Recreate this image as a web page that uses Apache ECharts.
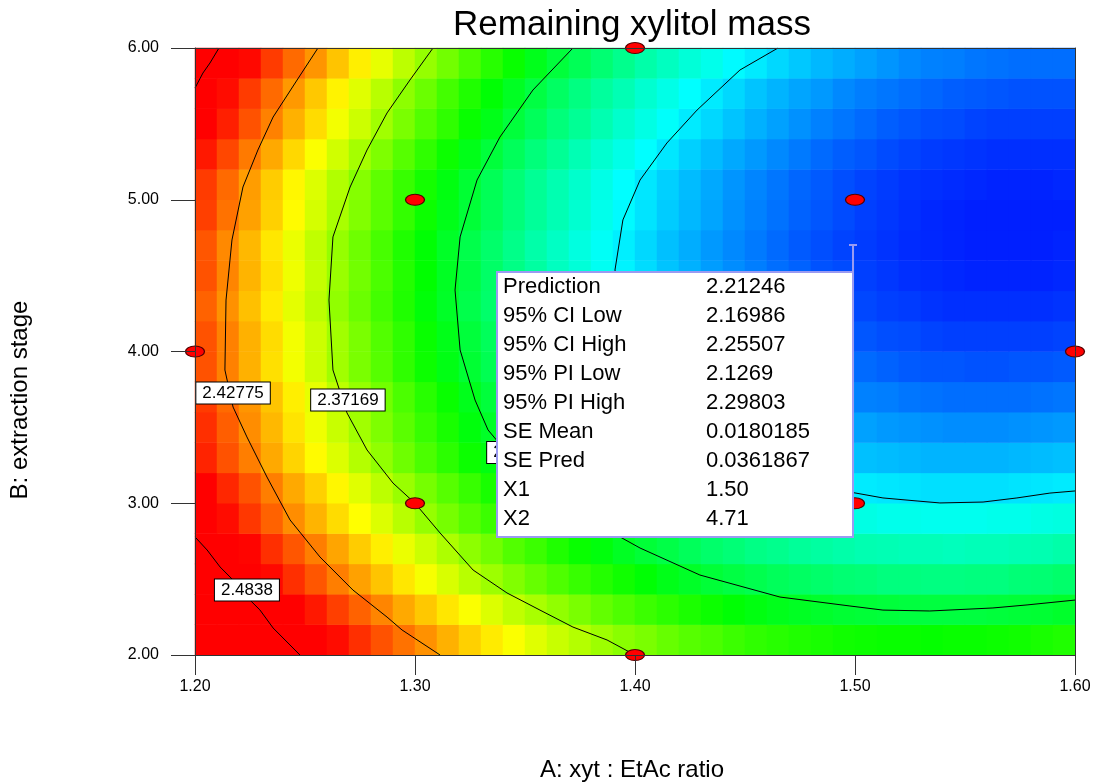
<!DOCTYPE html>
<html>
<head>
<meta charset="utf-8">
<title>Remaining xylitol mass</title>
<script src="https://cdn.jsdelivr.net/npm/echarts/dist/echarts.min.js"></script>
<style>
  html, body { margin: 0; padding: 0; background: #fff; }
  #chart { width: 1097px; height: 784px; }
</style>
</head>
<body>
<div id="chart"></div>
<script>
// cell centres of the response surface (A: xyt : EtAc ratio, B: extraction stage)
const aCells = ['1.205', '1.215', '1.225', '1.235', '1.245', '1.255', '1.265', '1.275', '1.285', '1.295',
    '1.305', '1.315', '1.325', '1.335', '1.345', '1.355', '1.365', '1.375', '1.385', '1.395',
    '1.405', '1.415', '1.425', '1.435', '1.445', '1.455', '1.465', '1.475', '1.485', '1.495',
    '1.505', '1.515', '1.525', '1.535', '1.545', '1.555', '1.565', '1.575', '1.585', '1.595'];
const bCells = ['2.1', '2.3', '2.5', '2.7', '2.9', '3.1', '3.3', '3.5', '3.7', '3.9',
    '4.1', '4.3', '4.5', '4.7', '4.9', '5.1', '5.3', '5.5', '5.7', '5.9'];

// remaining xylitol mass, one row per B cell (bottom to top), estimated from the plot
const surface = [
    [2.519, 2.508, 2.497, 2.487, 2.476, 2.467, 2.457, 2.448, 2.439, 2.431, 2.423, 2.415, 2.407, 2.400, 2.394, 2.387, 2.381, 2.376, 2.370, 2.365, 2.361, 2.356, 2.352, 2.349, 2.345, 2.342, 2.340, 2.338, 2.336, 2.334, 2.333, 2.332, 2.332, 2.331, 2.332, 2.332, 2.333, 2.334, 2.336, 2.338],
    [2.507, 2.496, 2.485, 2.474, 2.464, 2.454, 2.444, 2.435, 2.426, 2.417, 2.409, 2.401, 2.394, 2.386, 2.379, 2.373, 2.367, 2.361, 2.355, 2.350, 2.345, 2.341, 2.337, 2.333, 2.329, 2.326, 2.323, 2.321, 2.319, 2.317, 2.316, 2.315, 2.314, 2.314, 2.314, 2.314, 2.315, 2.316, 2.317, 2.319],
    [2.491, 2.480, 2.469, 2.458, 2.448, 2.438, 2.428, 2.419, 2.410, 2.401, 2.393, 2.385, 2.377, 2.370, 2.363, 2.356, 2.350, 2.344, 2.339, 2.334, 2.329, 2.324, 2.320, 2.316, 2.313, 2.310, 2.307, 2.305, 2.303, 2.301, 2.300, 2.298, 2.298, 2.297, 2.297, 2.298, 2.298, 2.300, 2.301, 2.303],
    [2.482, 2.470, 2.459, 2.448, 2.438, 2.428, 2.418, 2.408, 2.399, 2.390, 2.382, 2.374, 2.366, 2.359, 2.351, 2.345, 2.338, 2.332, 2.327, 2.321, 2.316, 2.312, 2.307, 2.303, 2.300, 2.296, 2.294, 2.291, 2.289, 2.287, 2.285, 2.284, 2.283, 2.283, 2.282, 2.283, 2.283, 2.284, 2.285, 2.287],
    [2.468, 2.457, 2.446, 2.435, 2.424, 2.414, 2.404, 2.395, 2.386, 2.377, 2.368, 2.360, 2.352, 2.345, 2.338, 2.331, 2.325, 2.319, 2.313, 2.308, 2.303, 2.298, 2.294, 2.290, 2.286, 2.283, 2.280, 2.277, 2.275, 2.273, 2.272, 2.270, 2.270, 2.269, 2.269, 2.269, 2.270, 2.270, 2.272, 2.273],
    [2.462, 2.450, 2.439, 2.428, 2.417, 2.407, 2.397, 2.387, 2.378, 2.369, 2.360, 2.352, 2.344, 2.336, 2.329, 2.322, 2.316, 2.309, 2.304, 2.298, 2.293, 2.288, 2.284, 2.279, 2.276, 2.272, 2.269, 2.266, 2.264, 2.262, 2.260, 2.259, 2.258, 2.257, 2.257, 2.257, 2.257, 2.258, 2.259, 2.260],
    [2.451, 2.439, 2.428, 2.417, 2.406, 2.396, 2.386, 2.376, 2.367, 2.358, 2.349, 2.341, 2.333, 2.326, 2.318, 2.311, 2.305, 2.299, 2.293, 2.287, 2.282, 2.277, 2.273, 2.269, 2.265, 2.261, 2.258, 2.256, 2.253, 2.251, 2.249, 2.248, 2.247, 2.246, 2.246, 2.246, 2.246, 2.247, 2.248, 2.249],
    [2.448, 2.436, 2.424, 2.413, 2.402, 2.391, 2.381, 2.371, 2.362, 2.353, 2.344, 2.336, 2.327, 2.320, 2.312, 2.305, 2.298, 2.292, 2.286, 2.280, 2.275, 2.270, 2.265, 2.261, 2.257, 2.253, 2.250, 2.247, 2.245, 2.242, 2.241, 2.239, 2.238, 2.237, 2.236, 2.236, 2.236, 2.237, 2.238, 2.239],
    [2.445, 2.433, 2.422, 2.410, 2.399, 2.389, 2.378, 2.368, 2.359, 2.349, 2.340, 2.332, 2.323, 2.315, 2.308, 2.301, 2.294, 2.287, 2.281, 2.275, 2.270, 2.264, 2.260, 2.255, 2.251, 2.247, 2.244, 2.241, 2.238, 2.235, 2.233, 2.232, 2.230, 2.229, 2.228, 2.228, 2.228, 2.228, 2.229, 2.230],
    [2.439, 2.427, 2.415, 2.403, 2.392, 2.382, 2.371, 2.361, 2.352, 2.342, 2.333, 2.325, 2.317, 2.309, 2.301, 2.294, 2.287, 2.280, 2.274, 2.268, 2.263, 2.258, 2.253, 2.248, 2.244, 2.240, 2.237, 2.234, 2.231, 2.229, 2.227, 2.225, 2.223, 2.222, 2.222, 2.221, 2.221, 2.222, 2.222, 2.223],
    [2.439, 2.427, 2.415, 2.404, 2.392, 2.382, 2.371, 2.361, 2.351, 2.342, 2.332, 2.324, 2.315, 2.307, 2.299, 2.292, 2.285, 2.278, 2.272, 2.266, 2.260, 2.255, 2.250, 2.245, 2.241, 2.237, 2.233, 2.230, 2.227, 2.224, 2.222, 2.220, 2.219, 2.217, 2.216, 2.216, 2.216, 2.216, 2.216, 2.217],
    [2.435, 2.423, 2.411, 2.400, 2.388, 2.378, 2.367, 2.357, 2.347, 2.338, 2.328, 2.320, 2.311, 2.303, 2.295, 2.288, 2.281, 2.274, 2.268, 2.262, 2.256, 2.251, 2.246, 2.241, 2.237, 2.233, 2.229, 2.226, 2.223, 2.220, 2.218, 2.216, 2.215, 2.213, 2.212, 2.212, 2.212, 2.212, 2.212, 2.213],
    [2.439, 2.426, 2.414, 2.403, 2.391, 2.380, 2.369, 2.359, 2.349, 2.339, 2.330, 2.321, 2.313, 2.304, 2.296, 2.289, 2.281, 2.275, 2.268, 2.262, 2.256, 2.250, 2.245, 2.240, 2.236, 2.232, 2.228, 2.225, 2.221, 2.219, 2.216, 2.214, 2.212, 2.211, 2.210, 2.209, 2.209, 2.209, 2.209, 2.210],
    [2.438, 2.425, 2.413, 2.401, 2.390, 2.379, 2.368, 2.358, 2.348, 2.338, 2.329, 2.320, 2.311, 2.303, 2.295, 2.287, 2.280, 2.273, 2.267, 2.261, 2.255, 2.249, 2.244, 2.239, 2.235, 2.231, 2.227, 2.223, 2.220, 2.217, 2.215, 2.213, 2.211, 2.210, 2.209, 2.208, 2.208, 2.208, 2.208, 2.209],
    [2.444, 2.431, 2.419, 2.407, 2.396, 2.384, 2.373, 2.363, 2.353, 2.343, 2.333, 2.324, 2.316, 2.307, 2.299, 2.291, 2.284, 2.277, 2.270, 2.264, 2.258, 2.252, 2.247, 2.242, 2.237, 2.233, 2.229, 2.225, 2.222, 2.219, 2.216, 2.214, 2.212, 2.210, 2.209, 2.208, 2.208, 2.208, 2.208, 2.208],
    [2.445, 2.433, 2.420, 2.408, 2.397, 2.386, 2.375, 2.364, 2.354, 2.344, 2.335, 2.326, 2.317, 2.308, 2.300, 2.292, 2.285, 2.278, 2.271, 2.265, 2.259, 2.253, 2.248, 2.243, 2.238, 2.234, 2.230, 2.226, 2.223, 2.220, 2.217, 2.215, 2.213, 2.212, 2.211, 2.210, 2.209, 2.209, 2.209, 2.210],
    [2.454, 2.442, 2.429, 2.417, 2.405, 2.394, 2.383, 2.372, 2.362, 2.352, 2.342, 2.333, 2.324, 2.315, 2.307, 2.299, 2.292, 2.284, 2.277, 2.271, 2.265, 2.259, 2.253, 2.248, 2.243, 2.239, 2.235, 2.231, 2.227, 2.224, 2.222, 2.219, 2.217, 2.215, 2.214, 2.213, 2.212, 2.212, 2.212, 2.212],
    [2.465, 2.452, 2.439, 2.427, 2.415, 2.404, 2.392, 2.382, 2.371, 2.361, 2.351, 2.342, 2.332, 2.324, 2.315, 2.307, 2.299, 2.292, 2.285, 2.278, 2.272, 2.266, 2.260, 2.255, 2.250, 2.245, 2.241, 2.237, 2.233, 2.230, 2.227, 2.224, 2.222, 2.220, 2.219, 2.217, 2.216, 2.216, 2.216, 2.216],
    [2.470, 2.457, 2.445, 2.433, 2.421, 2.409, 2.398, 2.387, 2.377, 2.366, 2.357, 2.347, 2.338, 2.329, 2.321, 2.313, 2.305, 2.297, 2.290, 2.284, 2.277, 2.271, 2.265, 2.260, 2.255, 2.250, 2.246, 2.242, 2.239, 2.235, 2.232, 2.230, 2.228, 2.226, 2.224, 2.223, 2.222, 2.221, 2.221, 2.221],
    [2.484, 2.471, 2.458, 2.445, 2.433, 2.422, 2.410, 2.399, 2.389, 2.378, 2.368, 2.359, 2.349, 2.340, 2.332, 2.323, 2.315, 2.308, 2.301, 2.294, 2.287, 2.281, 2.275, 2.270, 2.264, 2.260, 2.255, 2.251, 2.247, 2.244, 2.241, 2.238, 2.235, 2.233, 2.232, 2.230, 2.229, 2.228, 2.228, 2.228]
];

// contour lines [A, B]
const contour4838a = [[1.2109, 6.0], [1.2068, 5.901], [1.2036, 5.835], [1.2, 5.736]];
const contour4838b = [[1.2, 2.778], [1.2055, 2.692], [1.2114, 2.580], [1.2173, 2.494], [1.2236, 2.382],
    [1.2295, 2.297], [1.2355, 2.178], [1.2477, 2.0]];
const contour4278 = [[1.2559, 6.0], [1.2464, 5.789], [1.2355, 5.545], [1.2286, 5.328], [1.2218, 5.084],
    [1.2168, 4.735], [1.2141, 4.339], [1.2136, 3.878], [1.2173, 3.634], [1.2236, 3.437], [1.2327, 3.173],
    [1.2432, 2.890], [1.2568, 2.646], [1.2718, 2.428], [1.2873, 2.250], [1.2941, 2.165], [1.3114, 2.0]];
const contour3717 = [[1.3082, 6.0], [1.2977, 5.789], [1.2873, 5.572], [1.2782, 5.328], [1.2705, 5.084],
    [1.2627, 4.755], [1.2609, 4.339], [1.2627, 3.878], [1.2691, 3.595], [1.2782, 3.351], [1.29, 3.133],
    [1.30, 3.0], [1.3114, 2.804], [1.3264, 2.560], [1.3418, 2.409], [1.3568, 2.296], [1.3718, 2.184],
    [1.3873, 2.099], [1.40, 2.0]];
const contour3156 = [[1.3718, 6.0], [1.3536, 5.723], [1.3386, 5.413], [1.3282, 5.130], [1.3205, 4.755],
    [1.3182, 4.405], [1.3205, 4.010], [1.3273, 3.680], [1.3332, 3.483], [1.3523, 3.153], [1.375, 2.923],
    [1.3932, 2.778], [1.4023, 2.705], [1.4295, 2.527], [1.4659, 2.382], [1.4977, 2.323], [1.5127, 2.296],
    [1.534, 2.290], [1.5627, 2.310], [1.5782, 2.330], [1.60, 2.362]];
const contour2596 = [[1.465, 6.0], [1.4477, 5.855], [1.4282, 5.591], [1.4145, 5.374], [1.4023, 5.130],
    [1.3945, 4.867], [1.3909, 4.537], [1.395, 4.2], [1.418, 3.8], [1.436, 3.5], [1.46, 3.3], [1.48, 3.15],
    [1.4977, 3.074], [1.5127, 3.035], [1.5282, 3.015], [1.5386, 3.002], [1.5582, 3.008], [1.5736, 3.035],
    [1.5886, 3.067], [1.60, 3.081]];

const contourLabels = [[1.2173, 3.727, '2.42775'], [1.2695, 3.680, '2.37169'],
    [1.2236, 2.428, '2.4838'], [1.3495, 3.334, '2.31563']];

// design points
const pointsA = [1.40, 1.30, 1.50, 1.20, 1.40, 1.60, 1.30, 1.50, 1.40];
const pointsB = [6.00, 5.00, 5.00, 4.00, 4.00, 4.00, 3.00, 3.00, 2.00];

// flag box
const boxLabels = ['Prediction', '95% CI Low', '95% CI High', '95% PI Low', '95% PI High',
    'SE Mean', 'SE Pred', 'X1', 'X2'];
const boxValues = ['2.21246', '2.16986', '2.25507', '2.1269', '2.29803',
    '0.0180185', '0.0361867', '1.50', '4.71'];

const FONT = '"Liberation Sans", Arial, sans-serif';

let heatData = [];
surface.forEach((row, j) => {
    row.forEach((v, k) => heatData.push([k, j, v]));
});

function contourSeries(data) {
    return {
        type: 'line',
        data: data,
        symbol: 'none',
        silent: true,
        z: 3,
        lineStyle: { color: '#000', width: 1 }
    };
}

let boxGraphics = [
    {
        type: 'rect', z: 100,
        shape: { x: 497, y: 272, width: 356, height: 265 },
        style: { fill: '#fff', stroke: '#9a9af2', lineWidth: 2 }
    },
    {
        type: 'line', z: 100,
        shape: { x1: 853, y1: 245, x2: 853, y2: 272 },
        style: { stroke: '#9a9af2', lineWidth: 2 }
    },
    {
        type: 'line', z: 100,
        shape: { x1: 849, y1: 245, x2: 857, y2: 245 },
        style: { stroke: '#9a9af2', lineWidth: 2 }
    }
];
boxLabels.forEach((t, i) => {
    boxGraphics.push({
        type: 'text', z: 101, x: 503, y: 287 + i * 29,
        style: { text: t, font: '22px ' + FONT, fill: '#000', verticalAlign: 'middle' }
    });
    boxGraphics.push({
        type: 'text', z: 101, x: 706, y: 287 + i * 29,
        style: { text: boxValues[i], font: '22px ' + FONT, fill: '#000', verticalAlign: 'middle' }
    });
});

let chart = echarts.init(document.getElementById('chart'));
chart.setOption({
    animation: false,
    grid: { left: 195, top: 48, width: 880, height: 607 },
    visualMap: {
        show: false,
        type: 'continuous',
        seriesIndex: 0,
        dimension: 2,
        min: 2.20,
        max: 2.46,
        inRange: { color: ['#0000ff', '#00ffff', '#00ff00', '#ffff00', '#ff0000'] }
    },
    xAxis: [
        {
            type: 'value', min: 1.2, max: 1.6, interval: 0.1, z: 10,
            axisLine: { onZero: false, lineStyle: { color: '#333' } },
            axisTick: { length: 20, lineStyle: { color: '#333' } },
            axisLabel: { margin: 24, fontSize: 16, color: '#000', fontFamily: FONT, formatter: v => v.toFixed(2) },
            splitLine: { show: false }
        },
        { type: 'category', data: aCells, show: false },
        {
            type: 'value', position: 'top', min: 1.2, max: 1.6, z: 10,
            axisLine: { onZero: false, lineStyle: { color: '#333' } },
            axisTick: { show: false }, axisLabel: { show: false }, splitLine: { show: false }
        }
    ],
    yAxis: [
        {
            type: 'value', min: 2, max: 6, interval: 1, z: 10,
            axisLine: { onZero: false, lineStyle: { color: '#333' } },
            axisTick: { length: 24, lineStyle: { color: '#333' } },
            axisLabel: { margin: 36, fontSize: 16, color: '#000', fontFamily: FONT, formatter: v => v.toFixed(2) },
            splitLine: { show: false }
        },
        { type: 'category', data: bCells, show: false },
        {
            type: 'value', position: 'right', min: 2, max: 6, z: 10,
            axisLine: { onZero: false, lineStyle: { color: '#333' } },
            axisTick: { show: false }, axisLabel: { show: false }, splitLine: { show: false }
        }
    ],
    graphic: [
        {
            type: 'text', x: 632, y: 25,
            style: { text: 'Remaining xylitol mass', font: '35px ' + FONT, fill: '#000', align: 'center', verticalAlign: 'middle' }
        },
        {
            type: 'text', x: 632, y: 770,
            style: { text: 'A: xyt : EtAc ratio', font: '24px ' + FONT, fill: '#000', align: 'center', verticalAlign: 'middle' }
        },
        {
            type: 'text', x: 20, y: 400, rotation: Math.PI / 2,
            style: { text: 'B: extraction stage', font: '24px ' + FONT, fill: '#000', align: 'center', verticalAlign: 'middle' }
        }
    ].concat(boxGraphics),
    series: [
        {
            type: 'heatmap',
            xAxisIndex: 1,
            yAxisIndex: 1,
            data: heatData,
            progressive: 0,
            silent: true,
            z: 1
        },
        contourSeries(contour4838a),
        contourSeries(contour4838b),
        contourSeries(contour4278),
        contourSeries(contour3717),
        contourSeries(contour3156),
        contourSeries(contour2596),
        {
            type: 'scatter',
            silent: true,
            z: 4,
            symbolSize: 1,
            itemStyle: { color: 'rgba(0,0,0,0)', opacity: 1 },
            data: contourLabels.map(d => ({ value: [d[0], d[1]], label: { formatter: d[2] } })),
            label: {
                show: true, position: 'inside', color: '#000', fontSize: 17, fontFamily: FONT,
                backgroundColor: '#fff', borderColor: '#000', borderWidth: 1, opacity: 1,
                padding: [1, 6, 1, 6], lineHeight: 19
            }
        },
        {
            type: 'scatter',
            silent: true,
            clip: false,
            z: 5,
            symbol: 'circle',
            symbolSize: [19, 11],
            itemStyle: { color: '#ff0000', borderColor: '#500000', borderWidth: 1, opacity: 1 },
            data: pointsA.map((a, i) => [a, pointsB[i]])
        }
    ]
});
</script>
</body>
</html>
